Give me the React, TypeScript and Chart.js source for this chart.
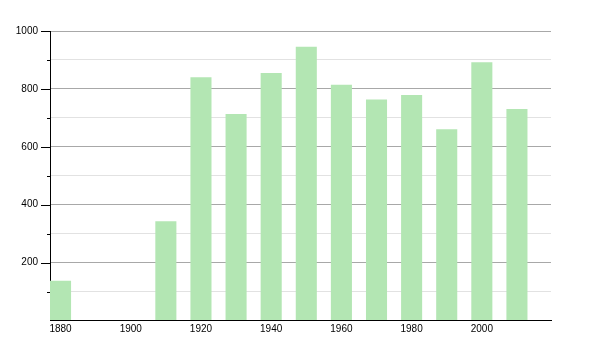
import React, { useEffect, useRef } from "react";
import { Chart, registerables } from "chart.js";

Chart.register(...registerables);

const years = [1880, 1910, 1920, 1930, 1940, 1950, 1960, 1970, 1980, 1990, 2000, 2010];
const population = [137, 343, 840, 713, 855, 946, 814, 763, 779, 661, 892, 731];
const xTickLabels = [1880, 1900, 1920, 1940, 1960, 1980, 2000];
const yTickLabels = [200, 400, 600, 800, 1000];

const tickMarks = {
  id: "tickMarks",
  afterDraw(chart: any) {
    const ctx = chart.ctx;
    const y = chart.scales.y;
    const left = chart.chartArea.left;
    ctx.save();
    ctx.strokeStyle = "#000";
    ctx.lineWidth = 1;
    for (let v = 100; v <= 1000; v += 100) {
      const py = Math.round(y.getPixelForValue(v)) + 0.5;
      const len = v % 200 === 0 ? 9 : 3;
      ctx.beginPath();
      ctx.moveTo(left - len, py);
      ctx.lineTo(left, py);
      ctx.stroke();
    }
    ctx.restore();
  },
};

export default function App() {
  const ref = useRef<HTMLCanvasElement>(null);
  useEffect(() => {
    document.body.style.margin = "0";
    const chart = new Chart(ref.current!, {
      type: "bar",
      data: {
        datasets: [
          {
            data: years.map((yr, i) => ({ x: yr, y: population[i] })),
            backgroundColor: "#b3e6b3",
            borderWidth: 0,
            barPercentage: 0.6,
            categoryPercentage: 1,
          },
        ],
      },
      options: {
        responsive: false,
        animation: false,
        layout: { padding: { top: 31, right: 49, left: 0, bottom: 0 } },
        plugins: { legend: { display: false }, tooltip: { enabled: false } },
        scales: {
          x: {
            type: "linear",
            min: 1877,
            max: 2019.7,
            offset: false,
            grid: { display: false, drawTicks: false },
            border: { color: "#000", width: 1 },
            afterBuildTicks: (s: any) => {
              s.ticks = xTickLabels.map((v) => ({ value: v }));
            },
            afterFit: (s: any) => {
              s.height = 29.5;
            },
            ticks: {
              color: "#000",
              font: { family: "Liberation Sans", size: 10 },
              padding: 3,
              maxRotation: 0,
              autoSkip: false,
              callback: (v: any) => String(v),
            },
          },
          y: {
            min: 0,
            max: 1000,
            afterBuildTicks: (s: any) => {
              const t = [];
              for (let v = 0; v <= 1000; v += 100) t.push({ value: v });
              s.ticks = t;
            },
            afterFit: (s: any) => {
              s.width = 50;
            },
            grid: {
              drawTicks: false,
              color: (c: any) => {
                const v = c.tick?.value;
                if (v === 0) return "rgba(0,0,0,0)";
                return v % 200 === 0 ? "#a8a8a8" : "#e2e2e2";
              },
            },
            border: { color: "#000", width: 1 },
            ticks: {
              color: "#000",
              font: { family: "Liberation Sans", size: 10 },
              padding: 12,
              autoSkip: false,
              callback: (v: any) => (yTickLabels.includes(v) ? String(v) : ""),
            },
          },
        },
      },
      plugins: [tickMarks],
    });
    return () => chart.destroy();
  }, []);
  return (
    <div style={{ position: "absolute", left: 0, top: 0, width: 600, height: 350 }}>
      <canvas ref={ref} width={600} height={350} />
    </div>
  );
}
